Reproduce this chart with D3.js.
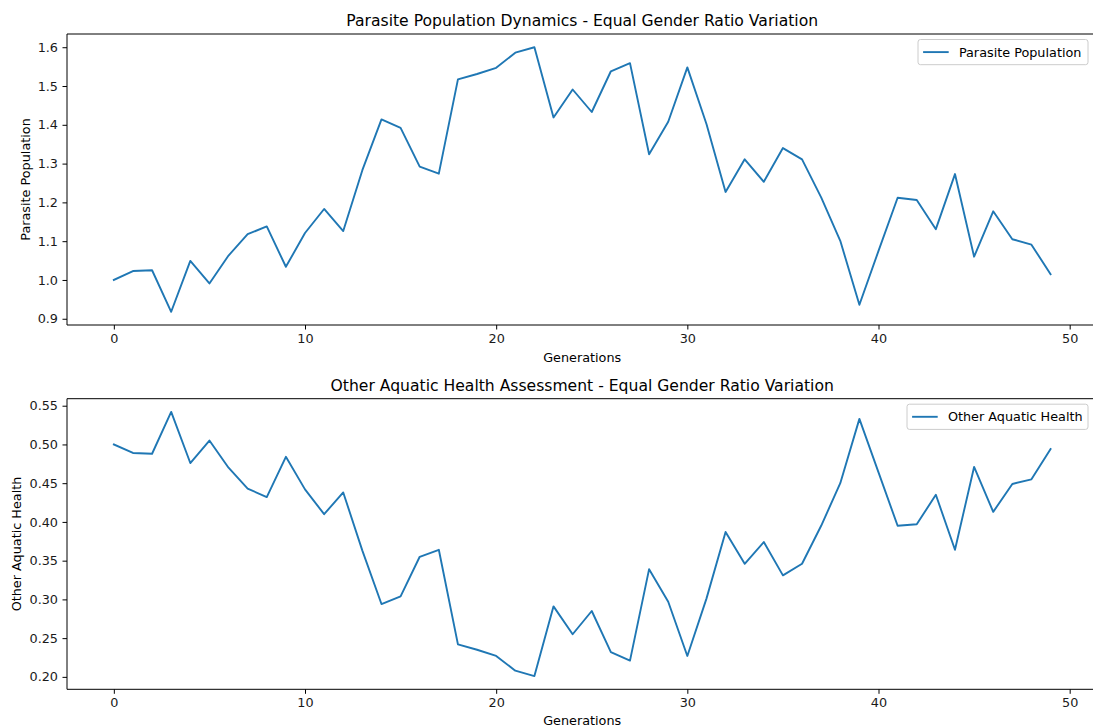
<!DOCTYPE html>
<html><head><meta charset="utf-8">
<script src="https://cdn.jsdelivr.net/npm/d3@7"></script>
<style>
body{margin:0;background:#fff}
text{font-family:"DejaVu Sans",sans-serif}
</style>
</head><body>
<svg id="chart" width="1093" height="727"></svg>
<script>
const generations = [0,1,2,3,4,5,6,7,8,9,10,11,12,13,14,15,16,17,18,19,20,21,22,23,24,25,26,27,28,29,30,31,32,33,34,35,36,37,38,39,40,41,42,43,44,45,46,47,48,49];
const parasitePopulation = [1.000,1.023,1.025,0.918,1.049,0.991,1.063,1.118,1.138,1.034,1.121,1.183,1.126,1.283,1.414,1.392,1.292,1.274,1.517,1.531,1.547,1.586,1.600,1.419,1.491,1.433,1.538,1.559,1.324,1.408,1.548,1.402,1.227,1.311,1.253,1.340,1.311,1.213,1.101,0.936,1.075,1.212,1.206,1.131,1.273,1.060,1.177,1.105,1.091,1.015];
const otherAquaticHealth = [0.500,0.489,0.488,0.542,0.476,0.505,0.470,0.443,0.432,0.484,0.442,0.410,0.438,0.363,0.294,0.304,0.355,0.364,0.242,0.235,0.227,0.208,0.201,0.291,0.255,0.285,0.232,0.221,0.339,0.297,0.227,0.301,0.387,0.346,0.374,0.331,0.346,0.395,0.450,0.533,0.464,0.395,0.397,0.435,0.364,0.471,0.413,0.449,0.455,0.494];
const xTicks = [0,10,20,30,40,50];
const parasiteTicks = [0.9,1.0,1.1,1.2,1.3,1.4,1.5,1.6];
const healthTicks = [0.20,0.25,0.30,0.35,0.40,0.45,0.50,0.55];
const titles = ["Parasite Population Dynamics - Equal Gender Ratio Variation","Other Aquatic Health Assessment - Equal Gender Ratio Variation"];
const yLabels = ["Parasite Population","Other Aquatic Health"];
const legendLabels = ["Parasite Population","Other Aquatic Health"];
const xLabel = "Generations";

const svg = d3.select("#chart");
const FS = 12.8, TFS = 15.6;
const left = 67, right = 1097.4;
const color = "#1f77b4";

function padded(ext){ const p=(ext[1]-ext[0])*0.05; return [ext[0]-p, ext[1]+p]; }

const x = d3.scaleLinear().domain(padded(d3.extent(generations))).range([left,right]);

const panels = [
  {top:34, bottom:325, values:parasitePopulation, ticks:parasiteTicks, fmt:d3.format(".1f"), title:titles[0], ylabel:yLabels[0], legend:legendLabels[0], ylabX:29.5, legW:170},
  {top:398.7, bottom:689.3, values:otherAquaticHealth, ticks:healthTicks, fmt:d3.format(".2f"), title:titles[1], ylabel:yLabels[1], legend:legendLabels[1], ylabX:21.4, legW:181}
];

panels.forEach(p => {
  const g = svg.append("g");
  const y = d3.scaleLinear().domain(padded(d3.extent(p.values))).range([p.bottom,p.top]);

  const xa = g.append("g").attr("transform",`translate(0,${p.bottom})`)
    .call(d3.axisBottom(x).tickValues(xTicks).tickFormat(d3.format("d")).tickSize(4.5).tickPadding(4.5).tickSizeOuter(0));
  const ya = g.append("g").attr("transform",`translate(${left},0)`)
    .call(d3.axisLeft(y).tickValues(p.ticks).tickFormat(p.fmt).tickSize(4.5).tickPadding(4.5).tickSizeOuter(0));
  [xa,ya].forEach(a=>{
    a.select(".domain").remove();
    a.selectAll("line").attr("stroke","#000").attr("stroke-width",1);
    a.selectAll("text").attr("font-size",FS).attr("fill","#1a1a1a").style("font-family","DejaVu Sans");
  });

  g.append("path").datum(p.values)
    .attr("fill","none").attr("stroke",color).attr("stroke-width",1.9)
    .attr("stroke-linejoin","round").attr("stroke-linecap","square")
    .attr("d", d3.line().x((d,i)=>x(generations[i])).y(d=>y(d)));

  const sp = g.append("g").attr("stroke","#000").attr("stroke-width",1).attr("fill","none");
  sp.append("line").attr("x1",left).attr("x2",left).attr("y1",p.top).attr("y2",p.bottom);
  sp.append("line").attr("x1",right).attr("x2",right).attr("y1",p.top).attr("y2",p.bottom);
  sp.append("line").attr("x1",left).attr("x2",right).attr("y1",p.top).attr("y2",p.top);
  sp.append("line").attr("x1",left).attr("x2",right).attr("y1",p.bottom).attr("y2",p.bottom);

  g.append("text").attr("x",(left+right)/2).attr("y",p.top-7.7).attr("text-anchor","middle")
    .attr("font-size",TFS).attr("fill","#000").text(p.title);
  g.append("text").attr("x",(left+right)/2).attr("y",Math.min(p.bottom+37,724.5)).attr("text-anchor","middle")
    .attr("font-size",FS).attr("fill","#000").text(xLabel);
  g.append("text").attr("transform",`translate(${p.ylabX},${(p.top+p.bottom)/2}) rotate(-90)`)
    .attr("text-anchor","middle").attr("font-size",FS).attr("fill","#000").text(p.ylabel);

  const lr = 1088, lt = p.top + 5.5, lh = 25.2;
  const ll = lr - p.legW;
  const lg = g.append("g");
  lg.append("rect").attr("x",ll).attr("y",lt).attr("width",p.legW).attr("height",lh)
    .attr("rx",2.5).attr("fill","#fff").attr("fill-opacity",0.8).attr("stroke","#cccccc").attr("stroke-width",1);
  lg.append("line").attr("x1",ll+5.1).attr("x2",ll+30.7).attr("y1",lt+lh/2).attr("y2",lt+lh/2)
    .attr("stroke",color).attr("stroke-width",1.9);
  lg.append("text").attr("x",ll+40.9).attr("y",lt+lh/2+4.6).attr("font-size",FS).attr("fill","#000").text(p.legend);
});
</script>
</body></html>
